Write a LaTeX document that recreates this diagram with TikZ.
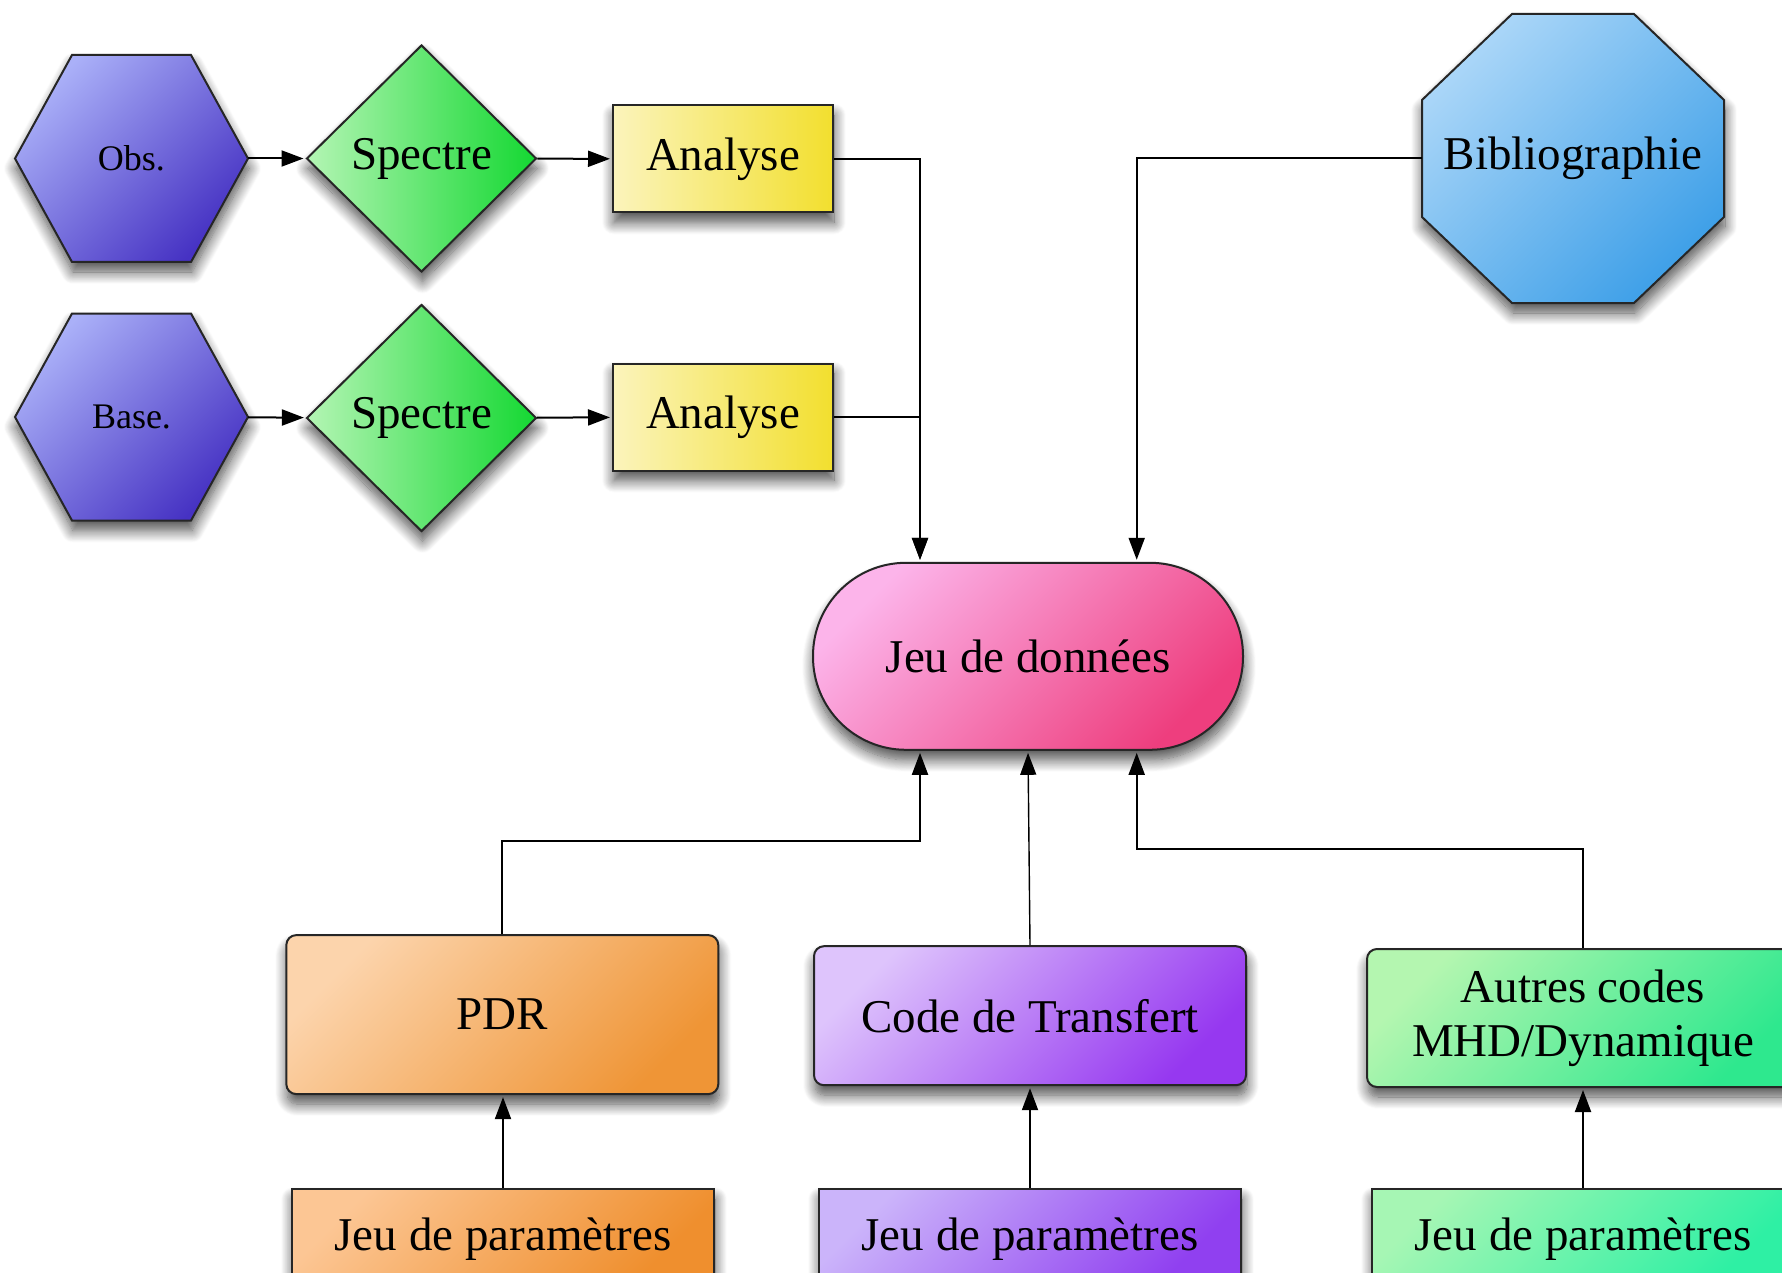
\documentclass[tikz,border=0pt]{standalone}
\usepackage{fontspec}
\setmainfont{Liberation Serif}
\usetikzlibrary{shapes.geometric,arrows.meta,calc,shadows.blur}

% fill colours (light corner, dark corner)
\definecolor{hexL}{HTML}{AAB0F8}\definecolor{hexD}{HTML}{4632C3}
\definecolor{spL}{HTML}{B4F5B4}\definecolor{spD}{HTML}{14D832}
\definecolor{anL}{HTML}{FBF4BC}\definecolor{anD}{HTML}{F2DF2E}
\definecolor{bibL}{HTML}{AAD6F8}\definecolor{bibD}{HTML}{3FA0E8}
\definecolor{jeuL}{HTML}{FCB4EA}\definecolor{jeuD}{HTML}{EE3E7E}
\definecolor{pdrL}{HTML}{FCD4AC}\definecolor{pdrD}{HTML}{EF9536}
\definecolor{codL}{HTML}{DEC4FC}\definecolor{codD}{HTML}{9638F0}
\definecolor{autL}{HTML}{B4F6B0}\definecolor{autD}{HTML}{2EE88E}
\definecolor{ppL}{HTML}{FCC694}\definecolor{ppD}{HTML}{EF8F2E}
\definecolor{pcL}{HTML}{CBB4FA}\definecolor{pcD}{HTML}{9040F0}
\definecolor{paL}{HTML}{A6F6B4}\definecolor{paD}{HTML}{2EF0A4}

\tikzset{
  outline/.style={draw=black!85, line width=2pt},
  softshadow/.style={blur shadow={shadow xshift=1pt, shadow yshift=-10pt,
      shadow blur radius=12pt, shadow blur steps=14, shadow opacity=70}},
  bigtext/.style={font=\fontsize{47}{54}\selectfont, text=black},
  smalltext/.style={font=\fontsize{36}{42}\selectfont, text=black},
  diag/.style 2 args={top color=#1, bottom color=#2, shading angle=45},
  horiz/.style 2 args={left color=#1, right color=#2},
  % invisible frame carrying the label of a polygon drawn under it
  frame/.style={rectangle, inner sep=0pt},
  hexfill/.style={outline, softshadow, diag={hexL}{hexD}},
  octfill/.style={outline, softshadow, diag={bibL}{bibD}},
  spectre/.style={diamond, outline, softshadow, inner sep=0pt, bigtext,
      minimum width=230pt, minimum height=227pt, horiz={spL}{spD}},
  analyse/.style={rectangle, outline, softshadow, inner sep=0pt, bigtext,
      minimum width=220pt, minimum height=107pt, horiz={anL}{anD}},
  stadium/.style={rectangle, rounded corners=93pt, outline, softshadow,
      inner sep=0pt, bigtext, minimum width=430pt, minimum height=187pt},
  codebox/.style={rectangle, rounded corners=10pt, outline, softshadow,
      inner sep=0pt, bigtext, align=center, minimum width=432pt},
  parambox/.style={rectangle, outline, softshadow, inner sep=0pt, bigtext,
      minimum width=422pt, minimum height=90pt, text depth=0pt},
  conn/.style={draw=black, line width=2pt,
      -{Triangle[length=22pt, width=16pt]}, shorten >=2pt},
}

\begin{document}
\begin{tikzpicture}[x=1pt, y=-1pt]
\clip (0,0) rectangle (1782,1273);

% hexagons (drawn first, labelled by frame nodes below)
\foreach \cy in {158.5,417}{
  \begin{scope}[shift={(131.5,\cy)}]
    \path[hexfill] (-116.5,0) -- (-59.5,-103.5) -- (59.5,-103.5) -- (116.5,0)
      -- (59.5,103.5) -- (-59.5,103.5) -- cycle;
  \end{scope}
}
% octagon
\begin{scope}[shift={(1573,158.5)}]
  \path[octfill] (-61,-144.5) -- (61,-144.5) -- (151,-58.5) -- (151,58.5)
    -- (61,144.5) -- (-61,144.5) -- (-151,58.5) -- (-151,-58.5) -- cycle;
\end{scope}

% observation / database chains
\node[frame, smalltext, minimum width=233pt, minimum height=207pt] (obs)  at (131.5,158.5) {Obs.};
\node[frame, smalltext, minimum width=233pt, minimum height=207pt] (base) at (131.5,417) {Base.};
\node[spectre] (sp1) at (421.5,158.5) {Spectre};
\node[spectre] (sp2) at (421.5,418) {Spectre};
\node[analyse] (an1) at (723,159) {Analyse};
\node[analyse] (an2) at (723,417) {Analyse};

% bibliography
\node[frame, bigtext, minimum width=302pt, minimum height=289pt] (bib) at (1573,158.5) {Bibliographie};

% central data set
\node[stadium, diag={jeuL}{jeuD}] (jeu) at (1028,656.3) {Jeu de donn\'ees};

% codes
\node[codebox, minimum height=159pt, diag={pdrL}{pdrD}] (pdr) at (502.3,1014.6) {PDR};
\node[codebox, minimum height=139pt, diag={codL}{codD}] (code) at (1030,1015.7) {Code de Transfert};
\node[codebox, minimum height=138pt, diag={autL}{autD}] (autres) at (1583,1018) {Autres codes\\MHD/Dynamique};

% parameter sets
\node[parambox, diag={ppL}{ppD}] (ppdr) at (503,1234) {Jeu de param\`etres};
\node[parambox, diag={pcL}{pcD}] (pcode) at (1030,1234) {Jeu de param\`etres};
\node[parambox, diag={paL}{paD}] (pautres) at (1583,1234) {Jeu de param\`etres};

% entry points on the data set
\coordinate (jinL)  at ($(jeu.north)+(-108,0)$);
\coordinate (jinR)  at ($(jeu.north)+(108.7,0)$);
\coordinate (joutL) at ($(jeu.south)+(-108,0)$);
\coordinate (joutR) at ($(jeu.south)+(108.7,0)$);

% upper connectors
\draw[conn] (obs) -- (sp1);
\draw[conn] (base) -- (sp2);
\draw[conn] (sp1) -- (an1);
\draw[conn] (sp2) -- (an2);
\draw[conn] (an1.east) -| (jinL);
\draw[conn] (an2.east) -| (jinL);
\draw[conn] (bib.west) -| (jinR);

% lower connectors
\draw[conn] (pdr.north) -- ++(0,-93) -| (joutL);
\draw[conn, line width=1.4pt] (code.north) -- (jeu.south);
\draw[conn] (autres.north) -- ++(0,-99) -| (joutR);
\draw[conn] (ppdr.north) -- (ppdr.north |- pdr.south);
\draw[conn] (pcode.north) -- (pcode.north |- code.south);
\draw[conn] (pautres.north) -- (pautres.north |- autres.south);
\end{tikzpicture}
\end{document}
